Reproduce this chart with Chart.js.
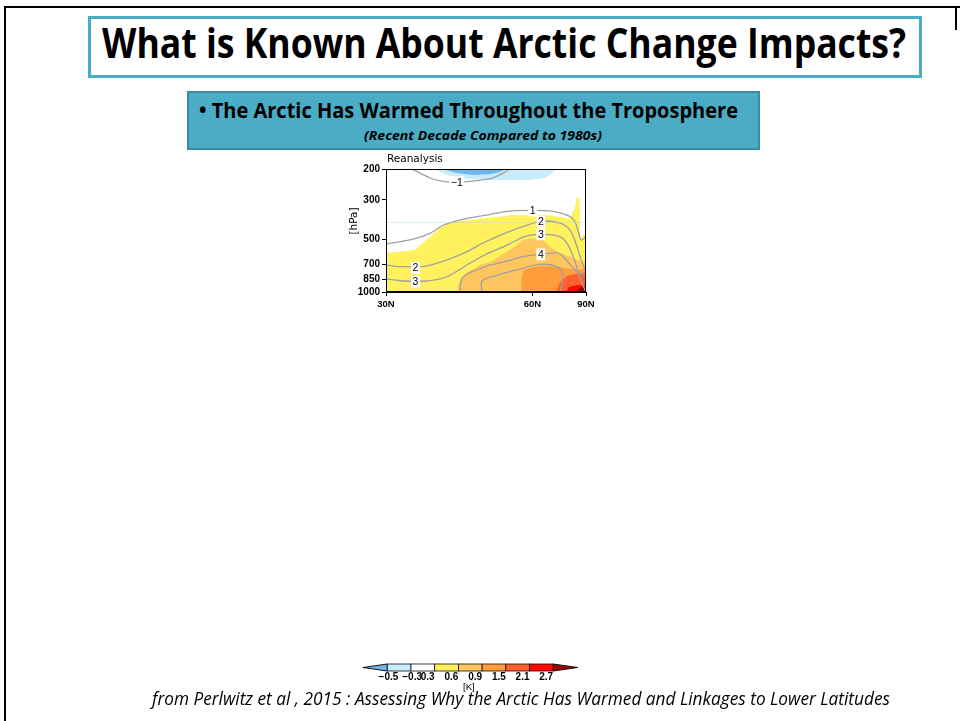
<!DOCTYPE html>
<html>
<head>
<meta charset="utf-8">
<script src="https://cdn.jsdelivr.net/npm/chart.js@4.4.1/dist/chart.umd.min.js"></script>
<style>
  html, body { margin: 0; padding: 0; background: #fff; }
  body { width: 960px; height: 721px; position: relative; overflow: hidden; font-family: "Open Sans", sans-serif; }
  .abs { position: absolute; }
  .fit { white-space: nowrap; transform-origin: 0 0; line-height: 1; color: #000; }
  .line { background: #000; }
  #titleBox { left: 88px; top: 16px; width: 834px; height: 62px; box-sizing: border-box; border: 3px solid #4bacc6; }
  #subBox { left: 187px; top: 91px; width: 573px; height: 59px; box-sizing: border-box; background: #4bacc6; border: 2px solid #3a8aa3; }
  .cbl { position: absolute; font: bold 10px "Liberation Sans", Arial, sans-serif; line-height: 1; white-space: nowrap; }
</style>
</head>
<body>
<div class="abs line" style="left:4px;top:6px;width:956px;height:2px"></div>
<div class="abs line" style="left:4px;top:6px;width:2px;height:715px"></div>
<div class="abs line" style="left:955px;top:6px;width:2px;height:24px"></div>

<div id="titleBox" class="abs"></div>
<span class="abs fit" data-w="804" style="left:102px;top:21px;font-size:42px;font-weight:700">What is Known About Arctic Change Impacts?</span>

<div id="subBox" class="abs"></div>
<span class="abs fit" data-w="539" style="left:199px;top:98px;font-size:22px;font-weight:700">• The Arctic Has Warmed Throughout the Troposphere</span>
<span class="abs fit" data-w="238" style="left:364px;top:129px;font-size:13px;font-weight:700;font-style:italic">(Recent Decade Compared to 1980s)</span>

<canvas id="chart" width="280" height="165" style="position:absolute;left:330px;top:150px"></canvas>

<svg id="cbar" class="abs" style="left:0;top:0" width="960" height="721"></svg>
<div id="cblabels"></div>

<span class="abs fit" data-w="738" style="left:152px;top:689px;font-size:19px;font-style:italic">from Perlwitz et al , 2015 : Assessing Why the Arctic Has Warmed and Linkages to Lower Latitudes</span>
<span class="abs" style="left:463px;top:682px;font:9.5px 'Liberation Sans',Arial,sans-serif;line-height:1">[K]</span>

<script>
// ---------- data: [latitude °N, pressure hPa] ----------
const X_TICKS = [30, 60, 90];
const Y_TICKS = [200, 300, 500, 700, 850, 1000];

// filled regions (temperature change, K)
const DARK_BLUE   = [[39.7,200],[42.6,211],[45.9,216],[49.5,214],[51.7,208],[53.1,200]];
const LIGHT_BLUE  = [[38.5,200],[40.6,216],[43.9,227],[49.5,231],[59.3,231],[63.8,225],[66.2,212],[67.3,200]];
const YELLOW      = [[30,600],[34.9,577],[37.6,485],[39.8,425],[42.5,397],[49.5,378],[54.9,365],[64.4,365],[73.7,382],
                     [76.5,336],[77.5,292],[79.2,289],[80.1,336],[80.1,457],[81.4,506],[82.8,474],[90,465],[90,1000],[30,1000]];
const LIGHT_ORANGE= [[42.7,1000],[42.8,912],[43.4,844],[44.6,780],[47.3,702],[49.5,675],[51.7,624],[54.1,577],[55.8,541],
                     [57.4,506],[60.2,496],[63.2,506],[65.5,553],[68.0,589],[73.7,630],[80.1,667],[90,675],[90,1000]];
const ORANGE      = [[57.1,1000],[57.0,840],[57.5,750],[61.2,717],[68.0,717],[77.6,750],[90,735],[90,1000]];
const RED_ORANGE  = [[67.7,1000],[69.2,877],[72.3,811],[76.5,790],[90,780],[90,1000]];
const RED         = [[71.8,1000],[73.2,937],[78.5,912],[90,918],[90,1000]];
const DARK_RED    = [[77.6,1000],[79.3,949],[84.0,940],[90,943],[90,1000]];

// contour lines
const C_M1 = [[34.4,200],[37.6,225],[40.6,237],[42.7,238],[45.2,235],[49.5,227],[52.3,212],[54.1,200]];
const C_1  = [[30,534],[34.6,500],[37.6,464],[40.1,416],[43.2,390],[49.5,362],[53.3,348],[60.1,344],[66.7,348],
              [72.9,368],[76.5,398],[78.5,448],[81.0,506],[84.3,496],[90,480]];
const C_2  = [[30,702],[32.3,717],[36.3,717],[40.6,658],[44.6,589],[48.4,520],[55.0,444],[62.5,397],[69.2,406],
              [73.7,444],[77.5,541],[81.7,675],[90,770]];
const C_3  = [[30,844],[33.0,866],[37.0,866],[40.6,822],[44.6,702],[48.4,614],[53.4,541],[57.8,484],[62.5,470],
              [69.2,484],[72.8,541],[76.5,668],[80.1,837],[85.0,960],[86.0,1000]];
const C_4  = [[43.2,1000],[43.6,840],[44.8,785],[46.6,750],[49.5,702],[51.7,684],[57.5,630],[62.5,611],[67.9,600],
              [70.4,624],[73.7,696],[78.7,778],[90,811]];
const C_5  = [[47.7,1000],[47.7,870],[50.2,814],[56.6,740],[62.3,696],[68.5,725],[70.4,811],[69.8,924],[69.2,1000]];

const CONTOUR_LABELS = [
  { t: "−1", lat: 42.6, p: 238 },
  { t: "1",  lat: 60.1, p: 344 },
  { t: "2",  lat: 62.5, p: 398 },
  { t: "3",  lat: 62.5, p: 470 },
  { t: "4",  lat: 62.5, p: 611 },
  { t: "2",  lat: 35.0, p: 730 },
  { t: "3",  lat: 35.0, p: 876 },
];

// colour bar
const CB_LEVELS = ["−0.5", "−0.3", "0.3", "0.6", "0.9", "1.5", "2.1", "2.7"];
const CB_COLORS = ["#6fb6ee", "#c8ecfb", "#ffffff", "#fff25e", "#ffc660", "#ff9c3c", "#ff6030", "#ff0a00", "#a00000"];

// ---------- sine-of-latitude axis ----------
const D2R = Math.PI / 180;
class SineScale extends Chart.LinearScale {
  getPixelForValue(v) {
    const a = Math.sin(this.min * D2R), b = Math.sin(this.max * D2R);
    return this.getPixelForDecimal((Math.sin(v * D2R) - a) / (b - a));
  }
  getValueForPixel(px) {
    const a = Math.sin(this.min * D2R), b = Math.sin(this.max * D2R);
    const s = a + this.getDecimalForPixel(px) * (b - a);
    return Math.asin(Math.max(-1, Math.min(1, s))) / D2R;
  }
}
SineScale.id = "sine";
SineScale.defaults = Chart.LinearScale.defaults;
Chart.register(SineScale);

Chart.defaults.font.family = '"Liberation Sans", Arial, sans-serif';
Chart.defaults.color = "#000";

const pts = (arr) => arr.map(([x, y]) => ({ x, y }));

function region(data, color, order) {
  return { data: pts(data), backgroundColor: color, borderColor: "transparent", borderWidth: 0,
           fill: "shape", pointRadius: 0, tension: 0, order };
}
function contour(data) {
  return { data: pts(data), borderColor: "#a0a0a0", borderWidth: 1.3, fill: false,
           pointRadius: 0, tension: 0.3, order: 1 };
}

/* =========================
   TEXTOS E MOLDURA DO GRÁFICO
========================= */
const decor = {
  id: "decor",
  afterDatasetsDraw(chart) {
    const { ctx, chartArea: a, scales: { x, y } } = chart;
    ctx.save();
    // faint 400 hPa line
    const y4 = Math.round(y.getPixelForValue(400)) + 0.5;
    ctx.strokeStyle = "rgba(170,215,240,0.45)";
    ctx.lineWidth = 1;
    ctx.beginPath(); ctx.moveTo(a.left, y4); ctx.lineTo(a.right, y4); ctx.stroke();

    ctx.font = '10.5px "Liberation Sans", Arial, sans-serif';
    ctx.textAlign = "center";
    ctx.textBaseline = "middle";
    CONTOUR_LABELS.forEach((l) => {
      const px = x.getPixelForValue(l.lat), py = y.getPixelForValue(l.p);
      const w = ctx.measureText(l.t).width + 3;
      ctx.fillStyle = "#fff";
      ctx.fillRect(px - w / 2, py - 6, w, 12);
      ctx.fillStyle = "#000";
      ctx.fillText(l.t, px, py + 0.5);
    });

    ctx.strokeStyle = "#000";
    ctx.strokeRect(a.left + 0.5, a.top + 0.5, a.width - 1, a.height - 1);
    ctx.restore();
  },
  afterDraw(chart) {
    const { ctx, chartArea: a } = chart;
    ctx.save();
    ctx.fillStyle = "#000";
    ctx.font = '10.5px "DejaVu Sans", sans-serif';
    ctx.textAlign = "left";
    ctx.textBaseline = "alphabetic";
    ctx.fillText("Reanalysis", a.left + 1, a.top - 7);

    ctx.translate(a.left - 32, a.top + 52);
    ctx.rotate(-Math.PI / 2);
    ctx.textAlign = "center";
    ctx.textBaseline = "middle";
    ctx.font = '10.5px "DejaVu Sans", sans-serif';
    ctx.fillText("[hPa]", 0, 0);
    ctx.restore();
  },
};

new Chart(document.getElementById("chart").getContext("2d"), {
  type: "line",
  data: {
    datasets: [
      region(YELLOW, "#fff25e", 30),
      region(LIGHT_ORANGE, "#ffc660", 29),
      region(ORANGE, "#ff9c3c", 28),
      region(RED_ORANGE, "#ff6030", 27),
      region(RED, "#ff0a00", 26),
      region(DARK_RED, "#a00000", 25),
      region(LIGHT_BLUE, "#c8ecfb", 24),
      region(DARK_BLUE, "#6fb6ee", 23),
      contour(C_M1), contour(C_1), contour(C_2), contour(C_3), contour(C_4), contour(C_5),
    ],
  },
  options: {
    responsive: false,
    animation: false,
    events: [],
    layout: { padding: { top: 19, right: 24, left: 0, bottom: 0 } },
    plugins: { legend: { display: false }, tooltip: { enabled: false } },
    scales: {
      x: {
        type: "sine", min: 30, max: 90, bounds: "data",
        afterBuildTicks: (s) => { s.ticks = X_TICKS.map((v) => ({ value: v })); },
        afterFit: (s) => { s.height = 23; },
        ticks: { callback: (v) => v + "N", maxRotation: 0, autoSkip: false, padding: 3,
                 font: { size: 9.5, weight: "bold" } },
        grid: { drawOnChartArea: false, tickLength: 4, tickColor: "#000", color: "#000" },
        border: { color: "#000" },
      },
      y: {
        type: "logarithmic", reverse: true, min: 200, max: 1000, bounds: "data",
        afterBuildTicks: (s) => { s.ticks = Y_TICKS.map((v) => ({ value: v })); },
        afterFit: (s) => { s.width = 56; },
        ticks: { callback: (v) => String(v), autoSkip: false, padding: 2,
                 font: { size: 10, weight: "bold" } },
        grid: { drawOnChartArea: false, tickLength: 4, tickColor: "#000", color: "#000" },
        border: { color: "#000" },
      },
    },
  },
  plugins: [decor],
});

/* =========================
   BARRA DE CORES
========================= */
(function drawColorBar() {
  const svg = document.getElementById("cbar");
  const x0 = 387.3, w = 23.7, y0 = 664, h = 7, tri = 24.5;
  const nBox = CB_LEVELS.length - 1;
  let s = `<polygon points="${x0 - tri},${y0 + h / 2} ${x0},${y0} ${x0},${y0 + h}" fill="${CB_COLORS[0]}" stroke="#111" stroke-width="1"/>`;
  for (let i = 0; i < nBox; i++) {
    s += `<rect x="${x0 + i * w}" y="${y0}" width="${w}" height="${h}" fill="${CB_COLORS[i + 1]}" stroke="#111" stroke-width="0.8"/>`;
  }
  const xe = x0 + nBox * w;
  s += `<polygon points="${xe},${y0} ${xe + tri},${y0 + h / 2} ${xe},${y0 + h}" fill="${CB_COLORS[CB_COLORS.length - 1]}" stroke="#111" stroke-width="1"/>`;
  svg.innerHTML = s;

  const box = document.getElementById("cblabels");
  CB_LEVELS.forEach((t, i) => {
    const el = document.createElement("span");
    el.className = "cbl";
    el.textContent = t;
    box.appendChild(el);
    const bx = x0 + i * w + (t.startsWith("−") ? 11 : 0);
    el.style.left = (bx - el.getBoundingClientRect().width) + "px";
    el.style.top = "672px";
  });
})();

/* =========================
   AJUSTE DE LARGURA DOS TEXTOS
========================= */
function fitTexts() {
  document.querySelectorAll(".fit").forEach((el) => {
    el.style.transform = "none";
    const k = +el.dataset.w / el.getBoundingClientRect().width;
    el.style.transform = `scaleX(${k})`;
  });
}
fitTexts();
if (document.fonts) document.fonts.ready.then(fitTexts);
</script>
</body>
</html>
